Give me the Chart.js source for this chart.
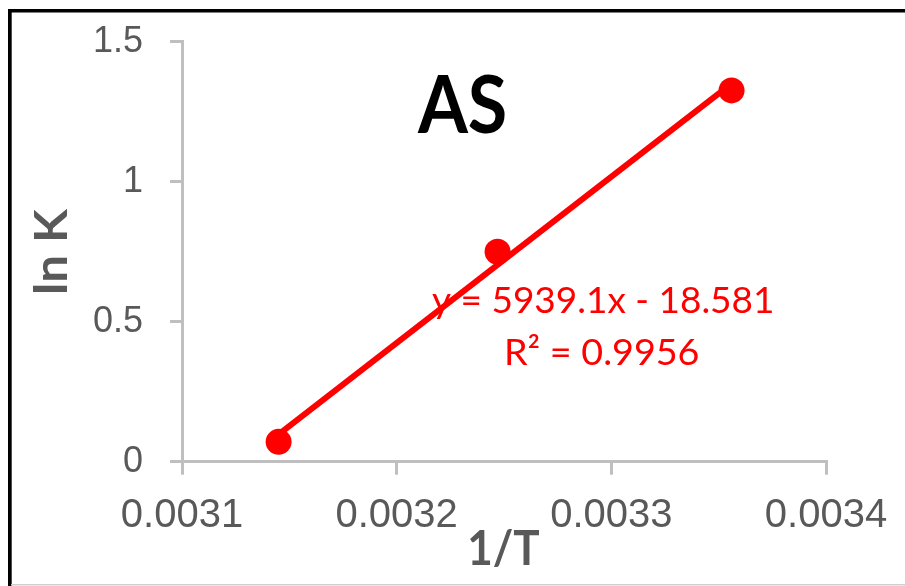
<!DOCTYPE html>
<html>
<head>
<meta charset="utf-8">
<script src="https://cdn.jsdelivr.net/npm/chart.js@4/dist/chart.umd.min.js"></script>
<style>
  html, body { margin: 0; padding: 0; background: #fff; overflow: hidden; }
  #wrap { position: relative; width: 905px; height: 586px; }
</style>
</head>
<body>
<div id="wrap"><canvas id="c" width="905" height="586"></canvas></div>
<script>
// Measured points: 1/T (K^-1) against ln K
const invT = [0.003145, 0.003247, 0.003356];
const lnK = [0.071, 0.750, 1.326];

// Linear fit reported on the chart
const fitSlope = 5939.1;
const fitIntercept = -18.581;
const fitLabel = ['y = 5939.1x - 18.581', 'R\u00B2 = 0.9956'];

const xTickValues = [0.0031, 0.0032, 0.0033, 0.0034];
const xTickLabels = ['0.0031', '0.0032', '0.0033', '0.0034'];
const yTickValues = [0, 0.5, 1, 1.5];
const yTickLabels = ['0', '0.5', '1', '1.5'];

const chartTitle = 'AS';
const xTitle = '1/T';
const yTitle = 'ln K';

const RED = '#ff0000';
const AXIS = '#bfbfbf';
const LABEL = '#595959';

const points = invT.map((x, i) => ({ x, y: lnK[i] }));
const fitEnds = [invT[0], invT[invT.length - 1]].map(x => ({ x, y: fitSlope * x + fitIntercept }));

// Draws text scaled so its cap height and ink width hit the given sizes
function drawFitted(ctx, txt, cx, baseY, capH, w, family, weight, color, rotated) {
  ctx.save();
  ctx.font = `${weight} 100px ${family}`;
  const capR = ctx.measureText('H').actualBoundingBoxAscent / 100;
  const size = capH / capR;
  ctx.font = `${weight} ${size}px ${family}`;
  const m = ctx.measureText(txt);
  const inkW = m.actualBoundingBoxLeft + m.actualBoundingBoxRight;
  const sx = w / inkW;
  ctx.translate(cx, baseY);
  if (rotated) ctx.rotate(-Math.PI / 2);
  ctx.scale(sx, 1);
  ctx.fillStyle = color;
  ctx.textAlign = 'left';
  ctx.textBaseline = 'alphabetic';
  ctx.fillText(txt, -inkW / 2 + m.actualBoundingBoxLeft, 0);
  ctx.restore();
}

const decorations = {
  id: 'decorations',
  afterDraw(chart) {
    const ctx = chart.ctx;
    // frame edges
    ctx.save();
    ctx.fillStyle = '#000';
    ctx.fillRect(8, 9, 897, 3.5);
    ctx.fillRect(8, 9, 3.7, 577);
    ctx.fillStyle = '#cfcfcf';
    ctx.fillRect(11, 584, 894, 1.5);
    ctx.restore();

    drawFitted(ctx, chartTitle, 461, 133, 58, 88, 'Lato', 'bold', '#000', false);
    drawFitted(ctx, fitLabel[0], 602, 313, 27, 340, 'Lato', 'normal', RED, false);
    drawFitted(ctx, fitLabel[1], 602.5, 365, 27, 191, 'Lato', 'normal', RED, false);
    drawFitted(ctx, yTitle, 67, 250.5, 34, 85, 'Lato', 'bold', LABEL, true);
    drawFitted(ctx, xTitle, 505, 565, 35, 70, 'Lato', 'bold', LABEL, false);
  }
};

new Chart(document.getElementById('c'), {
  type: 'scatter',
  data: {
    datasets: [
      {
        label: 'ln K',
        data: points,
        backgroundColor: RED,
        borderColor: RED,
        borderWidth: 0,
        pointRadius: 13,
        pointHoverRadius: 13,
        order: 0
      },
      {
        label: 'fit',
        data: fitEnds,
        showLine: true,
        borderColor: RED,
        borderWidth: 6,
        pointRadius: 0,
        fill: false,
        order: 1
      }
    ]
  },
  options: {
    responsive: false,
    animation: false,
    devicePixelRatio: 1,
    layout: { autoPadding: false, padding: { left: 0, right: 79, top: 41.7, bottom: 0 } },
    plugins: { legend: { display: false }, tooltip: { enabled: false } },
    scales: {
      x: {
        type: 'linear',
        min: 0.0031,
        max: 0.0034,
        afterBuildTicks: s => { s.ticks = xTickValues.map(v => ({ value: v })); },
        afterFit: s => { s.height = 124.3; s.paddingLeft = 0; s.paddingRight = 0; },
        ticks: {
          callback: (v, i) => xTickLabels[i],
          color: LABEL,
          font: { family: 'Liberation Sans', size: 40 },
          padding: 17,
          maxRotation: 0,
          autoSkip: false
        },
        grid: { drawOnChartArea: false, drawTicks: true, tickLength: 13, color: AXIS, lineWidth: 3 },
        border: { display: true, color: AXIS, width: 3 }
      },
      y: {
        type: 'linear',
        min: 0,
        max: 1.5,
        afterBuildTicks: s => { s.ticks = yTickValues.map(v => ({ value: v })); },
        afterFit: s => { s.width = 182; s.paddingTop = 0; s.paddingBottom = 0; },
        ticks: {
          callback: (v, i) => yTickLabels[i],
          color: LABEL,
          font: { family: 'Liberation Sans', size: 36 },
          padding: 27,
          autoSkip: false
        },
        grid: { drawOnChartArea: false, drawTicks: true, tickLength: 12, color: AXIS, lineWidth: 3 },
        border: { display: true, color: AXIS, width: 3 }
      }
    }
  },
  plugins: [decorations]
});
</script>
</body>
</html>
